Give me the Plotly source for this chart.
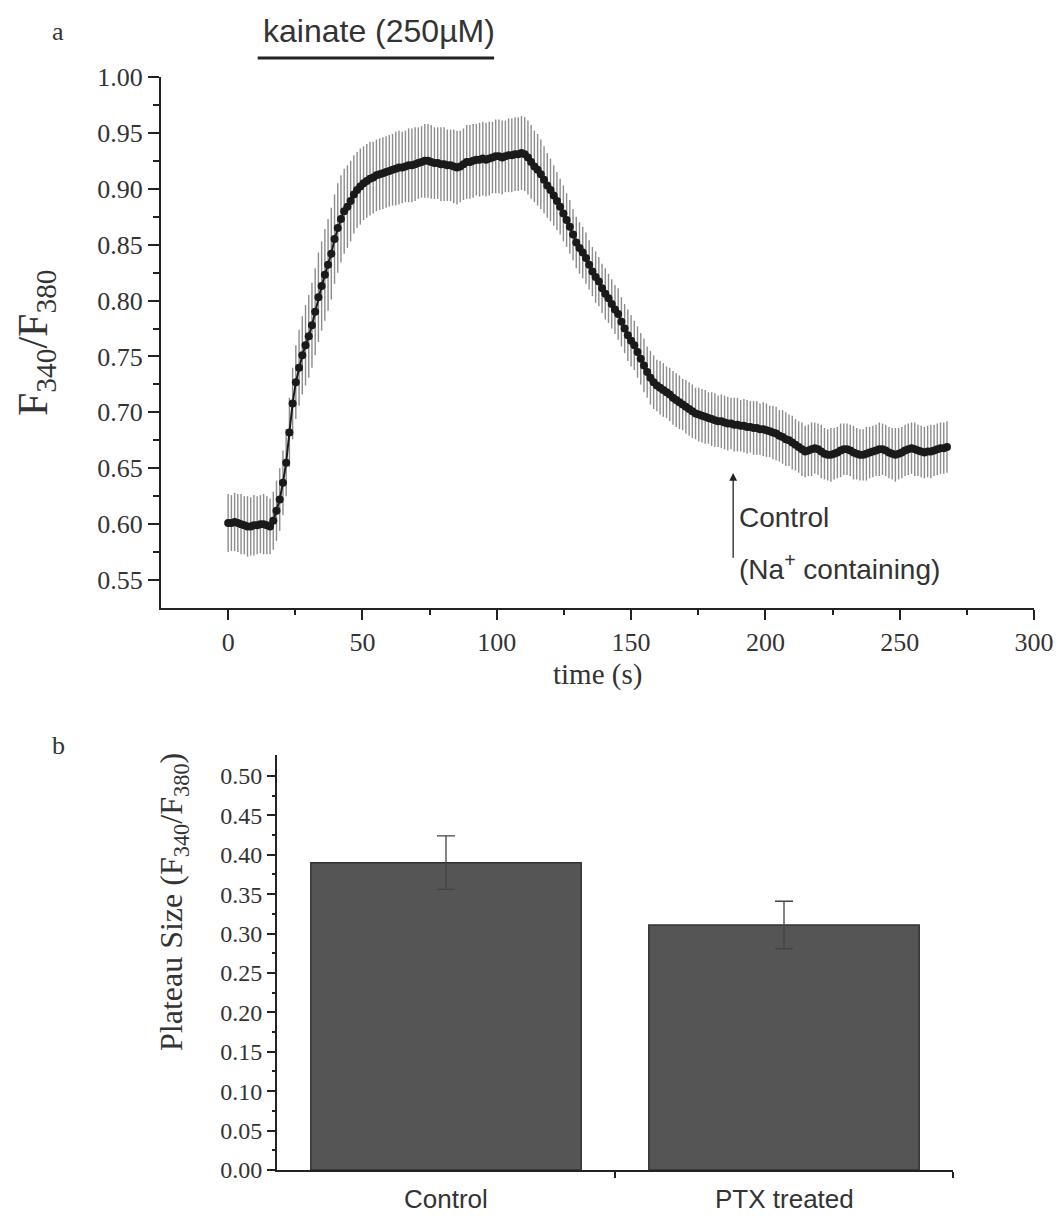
import plotly.graph_objects as go

# ---------------- data ----------------
# panel a: F340/F380 ratio, mean and SEM, sampled every SAMPLE_INTERVAL_S seconds from t = 0
SAMPLE_INTERVAL_S = 1.2
ratio_mean = [
    0.601, 0.601, 0.602, 0.601, 0.600, 0.599, 0.598, 0.598, 0.599, 0.599,
    0.600, 0.600, 0.599, 0.598, 0.603, 0.612, 0.622, 0.637, 0.655, 0.682,
    0.708, 0.727, 0.740, 0.751, 0.760, 0.768, 0.778, 0.790, 0.803, 0.813,
    0.823, 0.832, 0.842, 0.855, 0.865, 0.873, 0.880, 0.884, 0.889, 0.895,
    0.899, 0.902, 0.905, 0.907, 0.909, 0.910, 0.912, 0.913, 0.914, 0.915,
    0.916, 0.917, 0.918, 0.919, 0.919, 0.920, 0.921, 0.921, 0.922, 0.923,
    0.924, 0.925, 0.925, 0.924, 0.923, 0.923, 0.922, 0.922, 0.921, 0.921,
    0.920, 0.919, 0.920, 0.922, 0.924, 0.924, 0.925, 0.926, 0.926, 0.927,
    0.926, 0.927, 0.928, 0.929, 0.929, 0.928, 0.929, 0.930, 0.930, 0.931,
    0.931, 0.932, 0.931, 0.928, 0.924, 0.920, 0.917, 0.913, 0.908, 0.903,
    0.899, 0.894, 0.889, 0.884, 0.878, 0.872, 0.866, 0.859, 0.852, 0.847,
    0.843, 0.838, 0.832, 0.826, 0.821, 0.817, 0.811, 0.806, 0.802, 0.797,
    0.792, 0.788, 0.781, 0.775, 0.769, 0.764, 0.760, 0.754, 0.748, 0.742,
    0.736, 0.731, 0.727, 0.724, 0.722, 0.720, 0.718, 0.716, 0.713, 0.711,
    0.709, 0.707, 0.705, 0.703, 0.701, 0.699, 0.698, 0.697, 0.696, 0.695,
    0.694, 0.693, 0.692, 0.692, 0.691, 0.690, 0.690, 0.689, 0.689, 0.688,
    0.688, 0.687, 0.687, 0.686, 0.686, 0.685, 0.685, 0.684, 0.683, 0.682,
    0.681, 0.679, 0.678, 0.676, 0.675, 0.673, 0.671, 0.669, 0.667, 0.665,
    0.666, 0.667, 0.668, 0.667, 0.665, 0.663, 0.662, 0.662, 0.663, 0.664,
    0.666, 0.667, 0.667, 0.666, 0.664, 0.663, 0.662, 0.662, 0.663, 0.664,
    0.665, 0.666, 0.667, 0.667, 0.666, 0.664, 0.663, 0.662, 0.663, 0.664,
    0.666, 0.667, 0.668, 0.667, 0.666, 0.665, 0.664, 0.665, 0.665, 0.666,
    0.667, 0.668, 0.668, 0.669,
]
ratio_sem = [
    0.026, 0.025, 0.026, 0.026, 0.027, 0.026, 0.027, 0.026, 0.027, 0.026,
    0.026, 0.027, 0.026, 0.025, 0.026, 0.027, 0.028, 0.029, 0.030, 0.031,
    0.032, 0.033, 0.034, 0.035, 0.036, 0.037, 0.038, 0.039, 0.040, 0.040,
    0.041, 0.041, 0.041, 0.040, 0.040, 0.039, 0.038, 0.037, 0.036, 0.035,
    0.034, 0.034, 0.033, 0.033, 0.033, 0.032, 0.032, 0.032, 0.032, 0.032,
    0.032, 0.032, 0.033, 0.033, 0.032, 0.032, 0.033, 0.033, 0.033, 0.032,
    0.032, 0.033, 0.033, 0.033, 0.032, 0.032, 0.033, 0.033, 0.032, 0.032,
    0.033, 0.033, 0.032, 0.032, 0.033, 0.033, 0.033, 0.032, 0.033, 0.033,
    0.033, 0.033, 0.032, 0.033, 0.033, 0.033, 0.032, 0.033, 0.033, 0.033,
    0.033, 0.033, 0.033, 0.033, 0.033, 0.032, 0.032, 0.031, 0.030, 0.029,
    0.028, 0.027, 0.026, 0.025, 0.025, 0.024, 0.024, 0.023, 0.023, 0.023,
    0.023, 0.023, 0.022, 0.022, 0.023, 0.022, 0.022, 0.023, 0.022, 0.022,
    0.022, 0.023, 0.022, 0.022, 0.023, 0.023, 0.022, 0.023, 0.023, 0.024,
    0.023, 0.024, 0.024, 0.023, 0.024, 0.024, 0.023, 0.024, 0.024, 0.024,
    0.024, 0.023, 0.024, 0.024, 0.024, 0.023, 0.024, 0.024, 0.024, 0.023,
    0.024, 0.024, 0.023, 0.024, 0.024, 0.024, 0.023, 0.024, 0.024, 0.023,
    0.024, 0.024, 0.023, 0.024, 0.024, 0.023, 0.024, 0.024, 0.023, 0.024,
    0.024, 0.023, 0.024, 0.024, 0.023, 0.024, 0.023, 0.023, 0.024, 0.023,
    0.023, 0.024, 0.023, 0.023, 0.024, 0.023, 0.023, 0.024, 0.023, 0.023,
    0.024, 0.023, 0.023, 0.023, 0.024, 0.023, 0.023, 0.023, 0.024, 0.023,
    0.023, 0.023, 0.024, 0.023, 0.023, 0.023, 0.023, 0.024, 0.023, 0.023,
    0.023, 0.023, 0.023, 0.024, 0.023, 0.023, 0.023, 0.023, 0.024, 0.023,
    0.023, 0.023, 0.023, 0.023,
]
time_s = [round(i * SAMPLE_INTERVAL_S, 2) for i in range(len(ratio_mean))]

kainate_on_s, kainate_off_s = 11, 99
arrow_time_s = 188

x_ticks_a = [0, 50, 100, 150, 200, 250, 300]
y_ticks_a = [0.55, 0.60, 0.65, 0.70, 0.75, 0.80, 0.85, 0.90, 0.95, 1.00]

# panel b: plateau size
bar_labels = ["Control", "PTX treated"]
bar_pos = [0.5, 1.5]
plateau_mean = [0.390, 0.311]
plateau_sem = [0.034, 0.030]
y_ticks_b = [0.00, 0.05, 0.10, 0.15, 0.20, 0.25, 0.30, 0.35, 0.40, 0.45, 0.50]

# ---------------- layout helpers ----------------
W, H = 1058, 1216
def px(xp):
    return xp / W
def py(yp):
    return 1 - yp / H

SERIF = "Liberation Serif"
SANS = "Liberation Sans"
AX = "#222222"
TXT = "#333333"

fig = go.Figure()

fig.add_trace(go.Scatter(
    x=time_s, y=ratio_mean, mode="lines+markers",
    marker=dict(color="#1a1a1a", size=8),
    line=dict(color="#1a1a1a", width=2),
    error_y=dict(type="data", array=ratio_sem, color="#8c8c8c", thickness=1.4, width=0),
    xaxis="x", yaxis="y", showlegend=False,
))

fig.add_trace(go.Bar(
    x=bar_pos, y=plateau_mean, width=0.8,
    marker=dict(color="#555555", line=dict(color="#333333", width=1.5)),
    error_y=dict(type="data", array=plateau_sem, color="#444444", thickness=1.3, width=9),
    xaxis="x2", yaxis="y2", showlegend=False,
))

axis_common = dict(showgrid=False, zeroline=False, showline=True, linecolor=AX, linewidth=2,
                   ticks="outside", tickcolor=AX, tickwidth=2, automargin=False)

fig.update_layout(
    template="none",
    width=W, height=H,
    margin=dict(l=0, r=0, t=0, b=0, pad=0),
    paper_bgcolor="white", plot_bgcolor="white",
    showlegend=False,
    xaxis=dict(domain=[px(161), px(1034)], range=[-25, 300], anchor="y",
               tickvals=x_ticks_a, ticklen=10,
               minor=dict(tickvals=[25, 75, 125, 175, 225, 275], ticks="outside", ticklen=5,
                          tickwidth=1.5, tickcolor=AX),
               tickfont=dict(family=SERIF, size=26, color=TXT), **axis_common),
    yaxis=dict(domain=[py(608), py(77)], range=[0.525, 1.0], anchor="x",
               tickvals=y_ticks_a, tickformat=".2f", ticklen=11,
               minor=dict(tickvals=[0.575, 0.625, 0.675, 0.725, 0.775, 0.825, 0.875, 0.925, 0.975],
                          ticks="outside", ticklen=6, tickwidth=1.5, tickcolor=AX),
               tickfont=dict(family=SERIF, size=26, color=TXT), **axis_common),
    xaxis2=dict(domain=[px(277), px(953)], range=[0, 2], anchor="y2",
                tickvals=[1, 2], showticklabels=False, ticklen=6, **axis_common),
    yaxis2=dict(domain=[py(1170), py(755)], range=[0, 0.5266], anchor="x2",
                tickvals=y_ticks_b, tickformat=".2f", ticklen=8,
                minor=dict(tickvals=[0.025, 0.075, 0.125, 0.175, 0.225, 0.275, 0.325, 0.375, 0.425, 0.475],
                           ticks="outside", ticklen=3, tickwidth=1.5, tickcolor=AX),
                tickfont=dict(family=SERIF, size=24, color=TXT), **axis_common),
)

fig.add_shape(type="line", xref="x", yref="paper", x0=kainate_on_s, x1=kainate_off_s,
              y0=py(58), y1=py(58), line=dict(color=AX, width=3))

ann = [
    dict(text="a", x=px(58), y=py(32), xref="paper", yref="paper",
         font=dict(family=SERIF, size=26, color=TXT)),
    dict(text="b", x=px(58), y=py(745), xref="paper", yref="paper",
         font=dict(family=SERIF, size=26, color=TXT)),
    dict(text="kainate (250µM)", x=(kainate_on_s + kainate_off_s) / 2 + 1, y=py(31),
         xref="x", yref="paper", font=dict(family=SANS, size=32, color=TXT)),
    dict(text="time (s)", x=px(597), y=py(674), xref="paper", yref="paper",
         font=dict(family=SERIF, size=29, color=TXT)),
    dict(text="F<sub>340</sub>/F<sub>380</sub>", x=px(36), y=py(343), xref="paper", yref="paper",
         textangle=-90, font=dict(family=SERIF, size=42, color=TXT)),
    dict(text=" ", x=arrow_time_s, y=0.6458, ax=arrow_time_s, ay=0.561, xref="x", yref="y",
         axref="x", ayref="y", showarrow=True, arrowhead=2, arrowsize=1.2, arrowwidth=1.3,
         arrowcolor=AX),
    dict(text="Control", x=arrow_time_s + 1.6, y=0.6064, xref="x", yref="y", xanchor="left",
         font=dict(family=SANS, size=28, color=TXT)),
    dict(text="(Na<sup>+</sup> containing)", x=arrow_time_s + 1.6, y=0.562, xref="x", yref="y",
         xanchor="left", font=dict(family=SANS, size=28, color=TXT)),
    dict(text="Plateau Size (F<sub>340</sub>/F<sub>380</sub>)", x=px(173), y=py(902),
         xref="paper", yref="paper", textangle=-90,
         font=dict(family=SERIF, size=32, color=TXT)),
]
for lab, pos in zip(bar_labels, bar_pos):
    ann.append(dict(text=lab, x=pos, y=py(1199), xref="x2", yref="paper",
                    font=dict(family=SANS, size=26, color=TXT)))
for a in ann:
    a.setdefault("showarrow", False)
    a.setdefault("xanchor", "center")
    a.setdefault("yanchor", "middle")
    fig.add_annotation(**a)

fig.write_html("out.html", config={"displayModeBar": False},
               post_script="document.body.style.margin='0';")
